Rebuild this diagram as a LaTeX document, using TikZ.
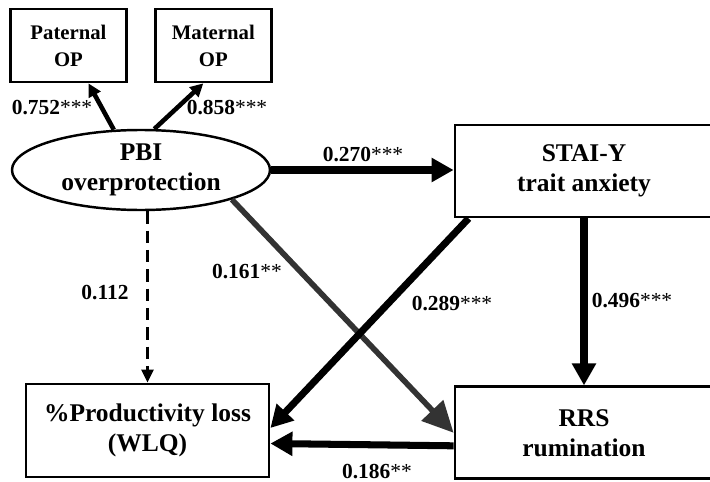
\documentclass[tikz,border=0pt]{standalone}
\usepackage{fontspec}
\setmainfont{Liberation Serif}
\usetikzlibrary{positioning,shapes.geometric,arrows.meta}
\definecolor{pathgray}{HTML}{333333}
\newcommand{\stars}[1]{\textmd{#1}}

\begin{document}
\begin{tikzpicture}[
  node distance=0.52cm,
  box/.style={draw, line width=1.6pt, align=center, inner sep=0pt, minimum width=5.14cm, minimum height=1.84cm, font=\fontsize{14.5}{17}\selectfont\bfseries},
  obs/.style={box, minimum width=2.32cm, minimum height=1.46cm, font=\fontsize{11.8}{15.4}\selectfont\bfseries},
  latent/.style={ellipse, draw, line width=1.4pt, align=center, inner sep=0pt, minimum width=5.16cm, minimum height=1.6cm, font=\fontsize{14.5}{17}\selectfont\bfseries},
  coef/.style={inner sep=0pt, font=\fontsize{12.2}{14}\selectfont\bfseries},
  arr/.style={-{Triangle[length=0.44cm,width=0.46cm]}, line width=4pt},
  grayarr/.style={-{Triangle[length=0.62cm,width=0.58cm]}, line width=3.2pt, color=pathgray},
  loadarr/.style={-{Triangle[length=0.26cm,width=0.26cm]}, line width=2.6pt},
  nsarr/.style={-{Triangle[length=0.26cm,width=0.24cm]}, line width=1.5pt, dashed, dash pattern=on 7pt off 4pt}
]
\useasboundingbox (0,0) rectangle (14.2,-9.64);

% measurement part
\node[obs] (pat) at (1.37,-0.91) {Paternal\\OP};
\node[obs, right=of pat] (mat) {Maternal\\OP};
\node[latent] (pbi) at (2.82,-3.40) {PBI\\overprotection};

% mediators and outcome
\node[box, minimum width=5.16cm] (stai) at (11.68,-3.42) {STAI-Y\\trait anxiety};
\node[box, minimum width=5.16cm, below=3.34cm of stai] (rrs) {RRS\\rumination};
\node[box, minimum width=4.86cm, minimum height=1.86cm] (wlq) at (2.95,-8.61) {\%Productivity loss\\(WLQ)};

\draw[loadarr] (pbi.124) -- ([xshift=0.4cm]pat.south);
\draw[loadarr] (pbi.72) -- ([xshift=-0.2cm]mat.south);
\draw[arr] (pbi.east) -- (pbi.east -| stai.west);
\draw[grayarr] (pbi.-18) -- (rrs.west);
\draw[nsarr] (pbi.south -| wlq.north) -- (wlq.north);
\draw[arr] ([xshift=0.3cm]stai.south west) -- ([yshift=0.05cm]wlq.east);
\draw[arr] (stai.south -| rrs.north) -- (rrs.north);
\draw[arr] ([yshift=-0.26cm]rrs.west) -- ([yshift=-0.26cm]wlq.east);

% coefficients
\node[coef] (c752) at (1.04,-2.16) {0.752\stars{***}};
\node[coef] (c858) at (4.54,-2.16) {0.858\stars{***}};
\node[coef] (c270) at (7.26,-3.10) {0.270\stars{***}};
\node[coef] (c112) at (2.10,-5.86) {0.112};
\node[coef] (c161) at (4.94,-5.44) {0.161\stars{**}};
\node[coef] (c289) at (9.04,-6.08) {0.289\stars{***}};
\node[coef] (c496) at (12.64,-6.02) {0.496\stars{***}};
\node[coef] (c186) at (7.54,-9.44) {0.186\stars{**}};
\end{tikzpicture}
\end{document}
